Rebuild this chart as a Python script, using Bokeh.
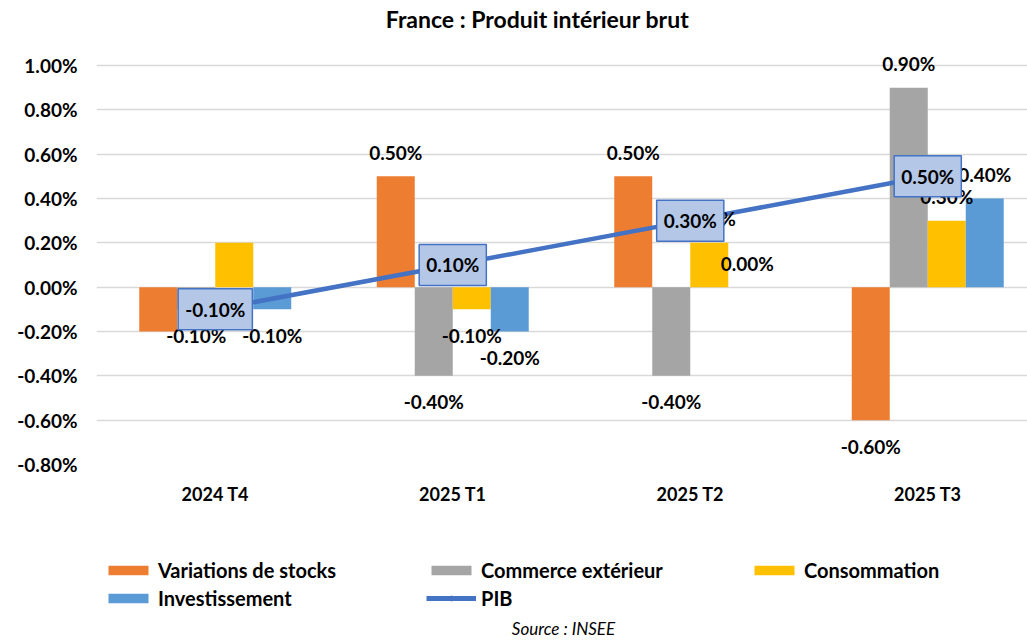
from bokeh.plotting import figure
from bokeh.layouts import column
from bokeh.models import (Range1d, FixedTicker, PrintfTickFormatter, ColumnDataSource,
                          LabelSet, Label, Legend, LegendItem)
from bokeh.core.properties import value
from bokeh.embed import file_html
from bokeh.resources import INLINE

# ---------------- data ----------------
categories = ["2024 T4", "2025 T1", "2025 T2", "2025 T3"]
stocks = [-0.2, 0.5, 0.5, -0.6]
commerce = [-0.1, -0.4, -0.4, 0.9]
consommation = [0.2, -0.1, 0.2, 0.3]
investissement = [-0.1, -0.2, 0.0, 0.4]
pib = [-0.1, 0.1, 0.3, 0.5]

# data labels as shown in the reference ("" = not shown)
stocks_labels = ["", "0.50%", "0.50%", "-0.60%"]
commerce_labels = ["-0.10%", "-0.40%", "-0.40%", "0.90%"]
consommation_labels = ["", "-0.10%", "0.20%", "0.30%"]
investissement_labels = ["-0.10%", "-0.20%", "0.00%", "0.40%"]
pib_labels = ["-0.10%", "0.10%", "0.30%", "0.50%"]

y_ticks = [-0.8, -0.6, -0.4, -0.2, 0.0, 0.2, 0.4, 0.6, 0.8, 1.0]

series_names = ["Variations de stocks", "Commerce extérieur", "Consommation", "Investissement"]
series_values = [stocks, commerce, consommation, investissement]
series_labels = [stocks_labels, commerce_labels, consommation_labels, investissement_labels]
series_colors = ["#ED7D31", "#A5A5A5", "#FFC000", "#5B9BD5"]
pib_color = "#4472C4"

title_text = "France : Produit intérieur brut"
source_text = "Source : INSEE"

FONT = "Lato"

# ---------------- main figure ----------------
p = figure(width=1027, height=530, output_backend="svg", toolbar_location=None,
           x_range=Range1d(0, 3.92), y_range=Range1d(-0.8, 1.2932),
           min_border_left=96, min_border_right=0, min_border_top=0,
           min_border_bottom=66)
p.outline_line_color = None
p.xgrid.grid_line_color = None
p.ygrid.grid_line_color = "#D9D9D9"
p.ygrid.grid_line_width = 1.5
p.ygrid.ticker = FixedTicker(ticks=y_ticks)

p.yaxis.ticker = FixedTicker(ticks=y_ticks)
p.yaxis.formatter = PrintfTickFormatter(format="%.2f%%")
p.yaxis.axis_line_color = None
p.yaxis.major_tick_line_color = None
p.yaxis.minor_tick_line_color = None
p.yaxis.major_label_standoff = 13
p.yaxis.major_label_text_font = FONT
p.yaxis.major_label_text_font_style = "bold"
p.yaxis.major_label_text_font_size = "19px"
p.yaxis.major_label_text_color = "#000000"

centers = [i + 0.5 for i in range(len(categories))]
p.xaxis.ticker = FixedTicker(ticks=centers)
p.xaxis.major_label_overrides = {c: cat for c, cat in zip(centers, categories)}
p.xaxis.axis_line_color = None
p.xaxis.major_tick_line_color = None
p.xaxis.minor_tick_line_color = None
p.xaxis.major_label_standoff = 12
p.xaxis.major_label_text_font = FONT
p.xaxis.major_label_text_font_style = "bold"
p.xaxis.major_label_text_font_size = "18px"
p.xaxis.major_label_text_color = "#000000"

bar_w = 0.16
shifts = [-0.24, -0.08, 0.08, 0.24]

label_sets = []
for name, vals, labs, col, sh in zip(series_names, series_values, series_labels,
                                     series_colors, shifts):
    src = ColumnDataSource(dict(
        x=[c + sh for c in centers],
        top=vals,
        label=labs,
        off=[24 if v >= 0 else -26 for v in vals],
    ))
    p.vbar(x="x", top="top", bottom=0, width=bar_w, source=src,
           fill_color=col, line_color=None)
    label_sets.append(LabelSet(x="x", y="top", text="label", source=src,
                               y_offset="off", text_align="center",
                               text_baseline="middle", text_font=value(FONT),
                               text_font_style="bold", text_font_size="19px",
                               text_color="#000000"))

pib_src = ColumnDataSource(dict(x=centers, y=pib))
p.line(x="x", y="y", source=pib_src, line_color=pib_color, line_width=4.5)
p.scatter(x="x", y="y", source=pib_src, size=11, marker="circle",
          fill_color=pib_color, line_color=pib_color)

for ls in label_sets:
    p.add_layout(ls)

for xc, yv, txt in zip(centers, pib, pib_labels):
    p.add_layout(Label(x=xc, y=yv, text=txt, text_align="center",
                       text_baseline="middle", text_font=FONT,
                       text_font_style="bold", text_font_size="19px",
                       text_color="#000000", background_fill_color="#B4C7E7",
                       border_line_color=pib_color, border_line_width=1.5,
                       padding=(7, 9)))

p.add_layout(Label(x=441, y=446, x_units="screen", y_units="screen",
                   text=title_text, text_align="center",
                   text_baseline="middle", text_font=FONT, text_font_style="bold",
                   text_font_size="23px", text_color="#000000"))

# ---------------- legend / source strip ----------------
# (its frame is aligned with the main frame, which starts 96 px from the left)
p2 = figure(width=1027, height=113, output_backend="svg", toolbar_location=None,
            x_range=Range1d(0, 1027), y_range=Range1d(0, 113),
            x_axis_type=None, y_axis_type=None, min_border=0)
p2.outline_line_color = None

legend_items = []
for name, col in zip(series_names, series_colors):
    # legend swatch renderers, kept far outside the visible range
    r = p2.vbar(x=[-5000], bottom=[-5000], top=[-4999], width=1,
                fill_color=col, line_color=None)
    legend_items.append(LegendItem(label=name, renderers=[r]))
rl = p2.line(x=[-5000, -4999], y=[-5000, -5000], line_color=pib_color, line_width=5)
rc = p2.scatter(x=[-5000], y=[-5000], size=11, marker="circle",
                fill_color=pib_color, line_color=pib_color)
legend_items.append(LegendItem(label="PIB", renderers=[rl, rc]))

legend = Legend(items=legend_items, orientation="horizontal", ncols=3,
                location=(7, 33), glyph_width=50, glyph_height=12,
                label_height=24, label_width=264, label_standoff=5, spacing=4,
                padding=0, margin=0, border_line_color=None,
                background_fill_alpha=0, label_text_font=FONT,
                label_text_font_style="bold", label_text_font_size="20px",
                label_text_color="#000000")
p2.add_layout(legend)

p2.add_layout(Label(x=467, y=15, x_units="screen", y_units="screen",
                    text=source_text, text_align="center",
                    text_baseline="middle", text_font=FONT, text_font_style="italic",
                    text_font_size="17px", text_color="#000000"))

layout = column(p, p2, spacing=0)
open("out.html", "w").write(file_html(layout, INLINE))
